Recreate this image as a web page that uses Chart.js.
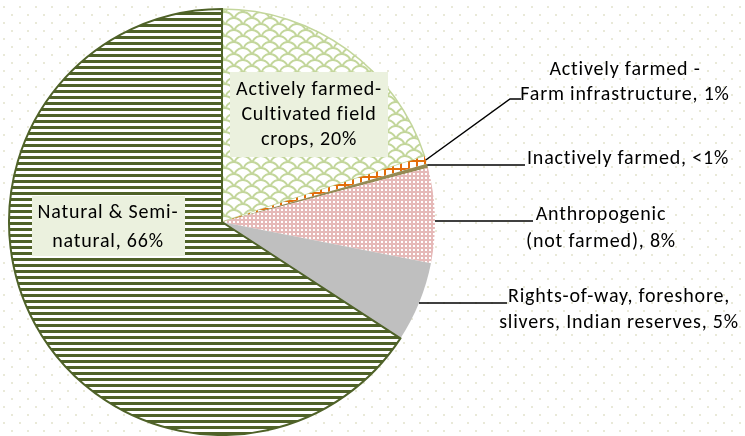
<!DOCTYPE html>
<html>
<head>
<meta charset="utf-8">
<script src="https://cdn.jsdelivr.net/npm/chart.js@4/dist/chart.umd.min.js"></script>
<style>
html,body{margin:0;padding:0;background:#fff;}
canvas{display:block;}
</style>
</head>
<body>
<canvas id="c" width="745" height="436"></canvas>
<script>
// ---- data ----
const categories = [
  "Actively farmed-Cultivated field crops",
  "Actively farmed - Farm infrastructure",
  "Inactively farmed",
  "Anthropogenic (not farmed)",
  "Rights-of-way, foreshore, slivers, Indian reserves",
  "Natural & Semi-natural"
];
const shares = [20, 0.6, 0.3, 7.2, 6.1, 65.8];
const labelLines = [
  ["Actively farmed-", "Cultivated field", "crops, 20%"],
  ["Actively farmed -", "Farm infrastructure, 1%"],
  ["Inactively farmed, <1%"],
  ["Anthropogenic", "(not farmed), 8%"],
  ["Rights-of-way, foreshore,", "slivers, Indian reserves, 5%"],
  ["Natural & Semi-", "natural, 66%"]
];

// ---- styles / patterns ----
function tile(w, h, draw) {
  const c = document.createElement('canvas');
  c.width = w; c.height = h;
  const g = c.getContext('2d');
  draw(g, w, h);
  return g.createPattern(c, 'repeat');
}
const ctxMain = document.getElementById('c').getContext('2d');
const patCrops = tile(18, 12, (g, w, h) => {
  g.fillStyle = '#ffffff'; g.fillRect(0, 0, w, h);
  g.strokeStyle = '#c3d69b'; g.lineWidth = 2;
  const arch = (cx, cy) => { g.beginPath(); g.arc(cx, cy, 9, Math.PI * 1.1, Math.PI * 1.9); g.stroke(); };
  arch(9, 9); arch(0, 15); arch(18, 15); arch(0, 3); arch(18, 3); arch(9, 21);
});
const patInfra = tile(8, 8, (g, w, h) => {
  g.fillStyle = '#ffffff'; g.fillRect(0, 0, w, h);
  g.fillStyle = '#e36c09';
  g.fillRect(0, 0, w, 2); g.fillRect(0, 0, 2, h);
});
const patAnthro = tile(4, 4, (g, w, h) => {
  g.fillStyle = '#e6b9b8'; g.fillRect(0, 0, w, h);
  g.fillStyle = '#ffffff'; g.fillRect(1, 1, 2, 2);
});
const patNatural = tile(6, 6, (g, w, h) => {
  g.fillStyle = '#ffffff'; g.fillRect(0, 0, w, h);
  g.fillStyle = '#4f6228'; g.fillRect(0, 0, w, 3);
});

const FONT = "20px Carlito, Lato, 'Liberation Sans', sans-serif";
// label layout: [center x, first-line center y, line height, box?, leader]
const labelLayout = [
  { x: 309, y: 90, lh: 25, box: [230, 72, 158, 85] },
  { x: 625, y: 70, lh: 25, leader: { mode: 'mid', elbow: [510, 99], end: 521 } },
  { x: 628, y: 159, lh: 25, leader: { mode: 'h', y: 165, end: 525 } },
  { x: 601, y: 215, lh: 27, leader: { mode: 'h', y: 221, end: 533 } },
  { x: 619, y: 297, lh: 26, leader: { mode: 'h', y: 303, end: 507 } },
  { x: 108, y: 213, lh: 29, box: [32, 196, 153, 60] }
];

const bgDots = {
  id: 'bgDots',
  beforeDraw(chart) {
    const g = chart.ctx;
    g.save();
    g.fillStyle = '#ffffff';
    g.fillRect(0, 0, chart.width, chart.height);
    g.fillStyle = '#e9e9d8';
    let row = 0;
    for (let y = 7; y < chart.height; y += 8, row++) {
      for (let x = (row % 2 ? 12 : 4); x < chart.width; x += 16) g.fillRect(x - 1, y - 1, 2, 2);
    }
    g.restore();
  }
};

const pieLabels = {
  id: 'pieLabels',
  afterDraw(chart) {
    const g = chart.ctx;
    const arcs = chart.getDatasetMeta(0).data;
    g.save();
    g.font = FONT;
    g.letterSpacing = '0.8px';
    g.textAlign = 'center';
    g.textBaseline = 'middle';
    labelLines.forEach((lines, i) => {
      const L = labelLayout[i];
      const a = arcs[i];
      if (L.box) {
        g.fillStyle = '#ebf1de';
        g.fillRect(L.box[0], L.box[1], L.box[2], L.box[3]);
      }
      if (L.leader) {
        g.strokeStyle = '#000000';
        g.lineWidth = 1.5;
        g.beginPath();
        if (L.leader.mode === 'mid') {
          const mid = (a.startAngle + a.endAngle) / 2;
          g.moveTo(a.x + Math.cos(mid) * a.outerRadius, a.y + Math.sin(mid) * a.outerRadius);
          g.lineTo(L.leader.elbow[0], L.leader.elbow[1]);
          g.lineTo(L.leader.end, L.leader.elbow[1]);
        } else {
          const dy = L.leader.y - a.y;
          const sx = a.x + Math.sqrt(Math.max(a.outerRadius * a.outerRadius - dy * dy, 0));
          g.moveTo(sx, L.leader.y);
          g.lineTo(L.leader.end, L.leader.y);
        }
        g.stroke();
      }
      g.fillStyle = '#000000';
      lines.forEach((t, k) => g.fillText(t, L.x, L.y + k * L.lh));
    });
    g.restore();
  }
};

new Chart(ctxMain, {
  type: 'pie',
  data: {
    labels: categories,
    datasets: [{
      data: shares,
      backgroundColor: [patCrops, patInfra, '#948a54', patAnthro, '#bfbfbf', patNatural],
      borderColor: ['#c3d69b', '#e36c09', '#948a54', '#e6b9b8', '#bfbfbf', '#4f6228'],
      borderWidth: [1.5, 0, 0, 0, 0, 2],
      borderJoinStyle: 'miter'
    }]
  },
  options: {
    responsive: false,
    animation: false,
    events: [],
    layout: { padding: { left: 8, right: 309, top: 8, bottom: 0 } },
    plugins: { legend: { display: false }, tooltip: { enabled: false } }
  },
  plugins: [bgDots, pieLabels]
});
</script>
</body>
</html>
